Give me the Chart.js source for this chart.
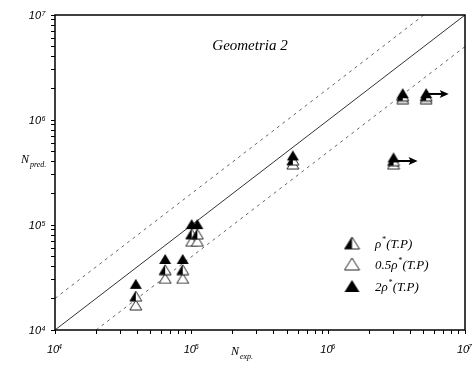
<!DOCTYPE html>
<html>
<head>
<meta charset="utf-8">
<script src="https://cdn.jsdelivr.net/npm/chart.js@4"></script>
<style>
  body { margin: 0; background: #fff; }
</style>
</head>
<body>
<canvas id="chart" width="472" height="369"></canvas>
<script>
const nExp        = [3.9e4, 6.4e4, 8.6e4, 1.0e5, 1.1e5, 5.5e5, 3.0e6, 3.5e6, 5.2e6];
const nPredDouble = [2.75e4, 4.75e4, 4.75e4, 1.02e5, 1.02e5, 4.6e5, 4.4e5, 1.8e6, 1.8e6];   // 2ρ*
const nPredRho    = [2.1e4, 3.75e4, 3.75e4, 8.2e4, 8.2e4, 4.15e5, 4.1e5, 1.7e6, 1.7e6];     // ρ*
const nPredHalfRho= [1.73e4, 3.1e4, 3.1e4, 7.0e4, 7.0e4, 3.8e5, 3.8e5, 1.6e6, 1.6e6];       // 0.5ρ*

// run-outs (arrows)
const arrowFrom = [3.0e6, 5.2e6];
const arrowTo   = [4.5e6, 7.6e6];
const arrowY    = [4.07e5, 1.77e6];

// reference lines (end points)
const lineEqual = [[1e4, 1e4], [1e7, 1e7]];
const lineUpper = [[1e4, 2e4], [5e6, 1e7]];
const lineLower = [[2e4, 1e4], [1e7, 5e6]];

const majorTicks = [1e4, 1e5, 1e6, 1e7];
const majorExp   = ['4', '5', '6', '7'];
const minorMult  = [2, 3, 4, 5, 6, 7, 8, 9];

const legendLabels = [['ρ', '*', '(T.P)'], ['0.5ρ', '*', '(T.P)'], ['2ρ', '*', '(T.P)']];
const legendKinds  = ['half', 'hollow', 'filled'];

const allTicks = [];
majorTicks.forEach((m, i) => {
    allTicks.push(m);
    if (i < majorTicks.length - 1) minorMult.forEach(k => allTicks.push(m * k));
});

// triangle markers as small canvases
function makeTri(kind, w, h) {
    const c = document.createElement('canvas');
    c.width = w + 2; c.height = h + 2;
    const g = c.getContext('2d');
    const x0 = 1, x1 = w + 1, xm = (w + 2) / 2, top = 1, bot = h + 1;
    g.beginPath();
    g.moveTo(xm, top); g.lineTo(x1, bot); g.lineTo(x0, bot); g.closePath();
    if (kind === 'filled') {
        g.fillStyle = '#000';
        g.fill();
    } else {
        g.fillStyle = '#fff';
        g.fill();
        if (kind === 'half') {
            g.beginPath();
            g.moveTo(xm, top); g.lineTo(xm, bot); g.lineTo(x0, bot); g.closePath();
            g.fillStyle = '#000';
            g.fill();
            g.beginPath();
            g.moveTo(xm, top); g.lineTo(x1, bot); g.lineTo(x0, bot); g.closePath();
        }
        g.strokeStyle = '#222';
        g.lineWidth = 1;
        g.stroke();
    }
    return c;
}

const triSmall = {
    filled: makeTri('filled', 12, 10),
    half: makeTri('half', 12, 10),
    hollow: makeTri('hollow', 12, 10)
};
const triLegend = {
    filled: makeTri('filled', 15, 12),
    half: makeTri('half', 15, 12),
    hollow: makeTri('hollow', 15, 12)
};

const toPts = (xs, ys) => xs.map((x, i) => ({ x: x, y: ys[i] }));
const linePts = arr => arr.map(p => ({ x: p[0], y: p[1] }));

const boxPlugin = {
    id: 'box',
    afterDraw(chart) {
        const { ctx, chartArea: { left, top, width, height } } = chart;
        ctx.save();
        ctx.strokeStyle = '#000';
        ctx.lineWidth = 1.5;
        ctx.strokeRect(left, top, width, height);
        ctx.restore();
    }
};

const arrowPlugin = {
    id: 'arrows',
    afterDatasetsDraw(chart) {
        const { ctx, scales: { x, y } } = chart;
        ctx.save();
        ctx.strokeStyle = '#000';
        ctx.fillStyle = '#000';
        ctx.lineWidth = 2;
        arrowFrom.forEach((x0, i) => {
            const px0 = x.getPixelForValue(x0);
            const px1 = x.getPixelForValue(arrowTo[i]);
            const py = y.getPixelForValue(arrowY[i]);
            ctx.beginPath();
            ctx.moveTo(px0, py);
            ctx.lineTo(px1 - 6, py);
            ctx.stroke();
            ctx.beginPath();
            ctx.moveTo(px1, py);
            ctx.lineTo(px1 - 9, py - 4);
            ctx.lineTo(px1 - 7, py);
            ctx.lineTo(px1 - 9, py + 4);
            ctx.closePath();
            ctx.fill();
        });
        ctx.restore();
    }
};

const textPlugin = {
    id: 'texts',
    afterDraw(chart) {
        const { ctx, scales: { x, y } } = chart;
        ctx.save();
        ctx.fillStyle = '#000';
        ctx.textBaseline = 'alphabetic';
        // y tick labels
        majorTicks.forEach((v, i) => {
            const py = y.getPixelForValue(v);
            ctx.font = 'italic 11px "Liberation Sans", Arial, sans-serif';
            ctx.textAlign = 'right';
            ctx.fillText('10', 41, py + 4);
            ctx.font = 'italic 7px "Liberation Sans", Arial, sans-serif';
            ctx.textAlign = 'left';
            ctx.fillText(majorExp[i], 41.5, py + 1);
        });
        // x tick labels
        majorTicks.forEach((v, i) => {
            const px = x.getPixelForValue(v);
            ctx.font = 'italic 11px "Liberation Sans", Arial, sans-serif';
            ctx.textAlign = 'left';
            ctx.fillText('10', px - 8, 353);
            ctx.font = 'italic 7px "Liberation Sans", Arial, sans-serif';
            ctx.fillText(majorExp[i], px + 3, 349);
        });
        // axis titles
        const serif = '"Liberation Serif", "Times New Roman", serif';
        ctx.textAlign = 'left';
        ctx.font = 'italic 12px ' + serif;
        ctx.fillText('N', 21, 163);
        ctx.font = 'italic 8px ' + serif;
        ctx.fillText('pred.', 30, 167);
        ctx.font = 'italic 12px ' + serif;
        ctx.fillText('N', 231, 355);
        ctx.font = 'italic 8px ' + serif;
        ctx.fillText('exp.', 240, 359);
        // title
        ctx.font = 'italic 15px ' + serif;
        ctx.textAlign = 'center';
        ctx.fillText('Geometria 2', 250, 50);
        // legend
        const rowsY = [243, 264, 286];
        legendLabels.forEach((lab, i) => {
            const img = triLegend[legendKinds[i]];
            ctx.drawImage(img, 352 - img.width / 2, rowsY[i] - img.height / 2);
            let tx = 375;
            const base = rowsY[i] + 5;
            ctx.textAlign = 'left';
            ctx.font = 'italic 13px ' + serif;
            ctx.fillText(lab[0], tx, base);
            tx += ctx.measureText(lab[0]).width;
            ctx.font = 'italic 8px ' + serif;
            ctx.fillText(lab[1], tx + 0.5, base - 6);
            tx += ctx.measureText(lab[1]).width + 1;
            ctx.font = 'italic 13px ' + serif;
            ctx.fillText(lab[2], tx, base);
        });
        ctx.restore();
    }
};

const logAxis = (pos, fit) => ({
    type: 'logarithmic',
    position: pos,
    min: 1e4,
    max: 1e7,
    afterBuildTicks: (scale) => {
        scale.ticks = allTicks.map(v => ({ value: v, major: majorTicks.includes(v) }));
    },
    afterFit: fit,
    ticks: { display: false },
    border: { display: false },
    grid: {
        drawOnChartArea: false,
        drawTicks: true,
        tickLength: 4,
        tickColor: '#000',
        tickWidth: 1
    }
});

new Chart(document.getElementById('chart').getContext('2d'), {
    type: 'scatter',
    data: {
        datasets: [
            { label: '2ρ*(T.P)', data: toPts(nExp, nPredDouble), pointStyle: triSmall.filled, pointRadius: 6 },
            { label: 'ρ*(T.P)', data: toPts(nExp, nPredRho), pointStyle: triSmall.half, pointRadius: 6 },
            { label: '0.5ρ*(T.P)', data: toPts(nExp, nPredHalfRho), pointStyle: triSmall.hollow, pointRadius: 6 },
            {
                type: 'line', data: linePts(lineEqual), borderColor: '#333', borderWidth: 1,
                pointRadius: 0, fill: false
            },
            {
                type: 'line', data: linePts(lineUpper), borderColor: '#666', borderWidth: 1,
                borderDash: [3, 4], pointRadius: 0, fill: false
            },
            {
                type: 'line', data: linePts(lineLower), borderColor: '#666', borderWidth: 1,
                borderDash: [3, 4], pointRadius: 0, fill: false
            }
        ]
    },
    options: {
        responsive: false,
        animation: false,
        events: [],
        layout: { padding: { left: 0, top: 15, right: 7, bottom: 0 } },
        plugins: {
            legend: { display: false },
            tooltip: { enabled: false },
            title: { display: false }
        },
        scales: {
            x: logAxis('bottom', s => { s.height = 39; }),
            y: logAxis('left', s => { s.width = 55; })
        }
    },
    plugins: [boxPlugin, arrowPlugin, textPlugin]
});
</script>
</body>
</html>
